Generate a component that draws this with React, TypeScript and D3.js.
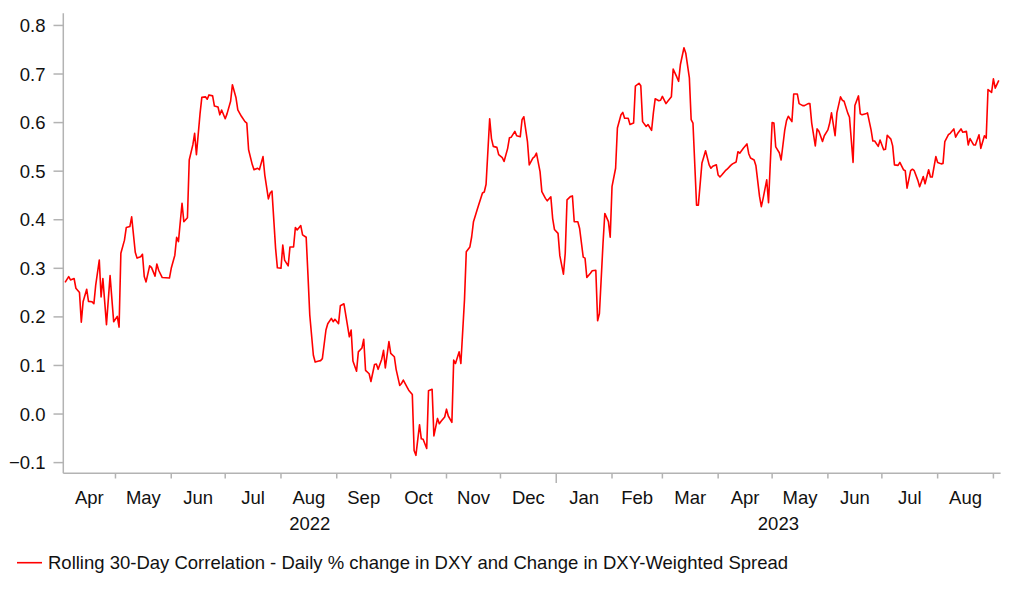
import * as d3 from "d3";

// rolling 30-day correlation
const dates = [
  "2022-04-03", "2022-04-05", "2022-04-06", "2022-04-08", "2022-04-09", "2022-04-11", "2022-04-12", "2022-04-13",
  "2022-04-15", "2022-04-16", "2022-04-18", "2022-04-19", "2022-04-20", "2022-04-22", "2022-04-23", "2022-04-24",
  "2022-04-26", "2022-04-28", "2022-04-29", "2022-04-30", "2022-05-02", "2022-05-03", "2022-05-04", "2022-05-06",
  "2022-05-07", "2022-05-09", "2022-05-10", "2022-05-12", "2022-05-13", "2022-05-15", "2022-05-16", "2022-05-17",
  "2022-05-18", "2022-05-20", "2022-05-21", "2022-05-23", "2022-05-24", "2022-05-25", "2022-05-27", "2022-05-31",
  "2022-06-01", "2022-06-03", "2022-06-04", "2022-06-05", "2022-06-07", "2022-06-08", "2022-06-10", "2022-06-11",
  "2022-06-13", "2022-06-14", "2022-06-15", "2022-06-17", "2022-06-18", "2022-06-20", "2022-06-21", "2022-06-22",
  "2022-06-24", "2022-06-25", "2022-06-27", "2022-06-28", "2022-06-29", "2022-07-01", "2022-07-02", "2022-07-04",
  "2022-07-05", "2022-07-07", "2022-07-08", "2022-07-10", "2022-07-12", "2022-07-13", "2022-07-14", "2022-07-16",
  "2022-07-17", "2022-07-19", "2022-07-20", "2022-07-22", "2022-07-23", "2022-07-25", "2022-07-26", "2022-07-27",
  "2022-07-29", "2022-07-30", "2022-08-01", "2022-08-02", "2022-08-03", "2022-08-05", "2022-08-06", "2022-08-08",
  "2022-08-09", "2022-08-10", "2022-08-12", "2022-08-13", "2022-08-15", "2022-08-16", "2022-08-17", "2022-08-19",
  "2022-08-20", "2022-08-22", "2022-08-23", "2022-08-24", "2022-08-26", "2022-08-27", "2022-08-29", "2022-08-30",
  "2022-08-31", "2022-09-02", "2022-09-03", "2022-09-05", "2022-09-06", "2022-09-08", "2022-09-09", "2022-09-10",
  "2022-09-12", "2022-09-13", "2022-09-15", "2022-09-16", "2022-09-17", "2022-09-19", "2022-09-20", "2022-09-22",
  "2022-09-23", "2022-09-24", "2022-09-26", "2022-09-27", "2022-09-28", "2022-09-30", "2022-10-01", "2022-10-03",
  "2022-10-04", "2022-10-06", "2022-10-07", "2022-10-08", "2022-10-10", "2022-10-11", "2022-10-13", "2022-10-14",
  "2022-10-15", "2022-10-17", "2022-10-18", "2022-10-19", "2022-10-21", "2022-10-22", "2022-10-24", "2022-10-25",
  "2022-10-27", "2022-10-28", "2022-10-29", "2022-10-31", "2022-11-01", "2022-11-02", "2022-11-04", "2022-11-05",
  "2022-11-06", "2022-11-08", "2022-11-09", "2022-11-11", "2022-11-12", "2022-11-14", "2022-11-15", "2022-11-16",
  "2022-11-18", "2022-11-19", "2022-11-21", "2022-11-22", "2022-11-23", "2022-11-25", "2022-11-26", "2022-11-27",
  "2022-11-29", "2022-11-30", "2022-12-02", "2022-12-03", "2022-12-05", "2022-12-06", "2022-12-07", "2022-12-09",
  "2022-12-10", "2022-12-12", "2022-12-13", "2022-12-14", "2022-12-16", "2022-12-17", "2022-12-19", "2022-12-20",
  "2022-12-21", "2022-12-23", "2022-12-24", "2022-12-26", "2022-12-27", "2022-12-29", "2022-12-30", "2022-12-31",
  "2023-01-02", "2023-01-03", "2023-01-05", "2023-01-06", "2023-01-07", "2023-01-09", "2023-01-10", "2023-01-11",
  "2023-01-13", "2023-01-14", "2023-01-16", "2023-01-17", "2023-01-18", "2023-01-20", "2023-01-21", "2023-01-23",
  "2023-01-24", "2023-01-25", "2023-01-27", "2023-01-28", "2023-01-30", "2023-01-31", "2023-02-01", "2023-02-03",
  "2023-02-04", "2023-02-06", "2023-02-07", "2023-02-08", "2023-02-10", "2023-02-11", "2023-02-13", "2023-02-14",
  "2023-02-16", "2023-02-17", "2023-02-18", "2023-02-20", "2023-02-21", "2023-02-23", "2023-02-24", "2023-02-25",
  "2023-02-27", "2023-02-28", "2023-03-01", "2023-03-03", "2023-03-04", "2023-03-06", "2023-03-07", "2023-03-09",
  "2023-03-10", "2023-03-11", "2023-03-13", "2023-03-14", "2023-03-16", "2023-03-17", "2023-03-18", "2023-03-20",
  "2023-03-21", "2023-03-23", "2023-03-24", "2023-03-25", "2023-03-27", "2023-03-28", "2023-03-29", "2023-03-31",
  "2023-04-01", "2023-04-02", "2023-04-03", "2023-04-05", "2023-04-06", "2023-04-08", "2023-04-09", "2023-04-11",
  "2023-04-12", "2023-04-13", "2023-04-15", "2023-04-17", "2023-04-18", "2023-04-19", "2023-04-21", "2023-04-22",
  "2023-04-24", "2023-04-25", "2023-04-26", "2023-04-28", "2023-04-29", "2023-05-01", "2023-05-02", "2023-05-03",
  "2023-05-05", "2023-05-06", "2023-05-08", "2023-05-09", "2023-05-10", "2023-05-12", "2023-05-13", "2023-05-15",
  "2023-05-16", "2023-05-18", "2023-05-19", "2023-05-21", "2023-05-22", "2023-05-23", "2023-05-25", "2023-05-26",
  "2023-05-27", "2023-05-29", "2023-05-30", "2023-06-01", "2023-06-02", "2023-06-03", "2023-06-05", "2023-06-06",
  "2023-06-08", "2023-06-09", "2023-06-10", "2023-06-12", "2023-06-13", "2023-06-15", "2023-06-16", "2023-06-18",
  "2023-06-19", "2023-06-20", "2023-06-22", "2023-06-23", "2023-06-25", "2023-06-26", "2023-06-27", "2023-06-29",
  "2023-06-30", "2023-07-02", "2023-07-03", "2023-07-04", "2023-07-06", "2023-07-07", "2023-07-08", "2023-07-10",
  "2023-07-11", "2023-07-13", "2023-07-14", "2023-07-15", "2023-07-17", "2023-07-18", "2023-07-19", "2023-07-21",
  "2023-07-22", "2023-07-24", "2023-07-25", "2023-07-27", "2023-07-28", "2023-07-29", "2023-07-31", "2023-08-01",
  "2023-08-03", "2023-08-04", "2023-08-05", "2023-08-07", "2023-08-08", "2023-08-10", "2023-08-11", "2023-08-12",
  "2023-08-14", "2023-08-15", "2023-08-17", "2023-08-18", "2023-08-19", "2023-08-21", "2023-08-22", "2023-08-24",
  "2023-08-25", "2023-08-27", "2023-08-28", "2023-08-29", "2023-08-31", "2023-09-01", "2023-09-02", "2023-09-04",
];

const correlation = [
  0.271, 0.283, 0.276, 0.279, 0.259, 0.250, 0.189, 0.231,
  0.257, 0.232, 0.231, 0.227, 0.265, 0.317, 0.241, 0.279,
  0.184, 0.285, 0.237, 0.190, 0.201, 0.179, 0.331, 0.358,
  0.384, 0.386, 0.406, 0.333, 0.321, 0.324, 0.329, 0.283,
  0.272, 0.305, 0.302, 0.284, 0.309, 0.296, 0.281, 0.280,
  0.300, 0.327, 0.364, 0.355, 0.434, 0.396, 0.404, 0.523,
  0.554, 0.578, 0.534, 0.618, 0.652, 0.653, 0.648, 0.657,
  0.655, 0.634, 0.632, 0.616, 0.626, 0.608, 0.618, 0.644,
  0.678, 0.651, 0.626, 0.613, 0.602, 0.599, 0.544, 0.514,
  0.503, 0.506, 0.503, 0.530, 0.492, 0.443, 0.455, 0.459,
  0.341, 0.301, 0.300, 0.348, 0.317, 0.305, 0.344, 0.344,
  0.384, 0.379, 0.388, 0.369, 0.364, 0.286, 0.204, 0.121,
  0.107, 0.109, 0.110, 0.114, 0.173, 0.186, 0.197, 0.190,
  0.195, 0.186, 0.223, 0.227, 0.204, 0.159, 0.173, 0.109,
  0.088, 0.128, 0.136, 0.154, 0.090, 0.083, 0.067, 0.102,
  0.103, 0.092, 0.113, 0.131, 0.095, 0.149, 0.125, 0.118,
  0.092, 0.059, 0.063, 0.070, 0.056, 0.049, 0.040, -0.075,
  -0.085, -0.022, -0.051, -0.052, -0.071, 0.048, 0.051, -0.045,
  -0.009, -0.020, -0.015, -0.006, 0.010, -0.004, -0.017, 0.111,
  0.104, 0.128, 0.104, 0.235, 0.334, 0.344, 0.365, 0.396,
  0.420, 0.432, 0.455, 0.457, 0.473, 0.608, 0.567, 0.551,
  0.549, 0.534, 0.528, 0.520, 0.547, 0.569, 0.570, 0.582,
  0.573, 0.571, 0.606, 0.612, 0.561, 0.513, 0.527, 0.530,
  0.537, 0.499, 0.458, 0.444, 0.439, 0.447, 0.403, 0.380,
  0.372, 0.326, 0.288, 0.331, 0.441, 0.448, 0.449, 0.396,
  0.396, 0.382, 0.323, 0.321, 0.281, 0.290, 0.295, 0.296,
  0.192, 0.207, 0.351, 0.413, 0.396, 0.364, 0.468, 0.506,
  0.589, 0.616, 0.621, 0.609, 0.609, 0.596, 0.599, 0.675,
  0.681, 0.676, 0.602, 0.592, 0.596, 0.584, 0.620, 0.649,
  0.645, 0.646, 0.654, 0.639, 0.644, 0.653, 0.710, 0.694,
  0.685, 0.719, 0.754, 0.743, 0.692, 0.606, 0.599, 0.430,
  0.430, 0.517, 0.529, 0.542, 0.513, 0.506, 0.510, 0.513,
  0.492, 0.488, 0.492, 0.501, 0.504, 0.512, 0.515, 0.519,
  0.540, 0.537, 0.547, 0.556, 0.536, 0.527, 0.523, 0.511,
  0.448, 0.427, 0.444, 0.482, 0.435, 0.600, 0.599, 0.550,
  0.538, 0.523, 0.584, 0.604, 0.613, 0.602, 0.659, 0.659,
  0.639, 0.635, 0.635, 0.639, 0.639, 0.599, 0.552, 0.587,
  0.582, 0.561, 0.573, 0.585, 0.599, 0.620, 0.573, 0.620,
  0.653, 0.646, 0.644, 0.620, 0.611, 0.518, 0.635, 0.655,
  0.618, 0.616, 0.618, 0.620, 0.585, 0.562, 0.562, 0.551,
  0.564, 0.544, 0.545, 0.574, 0.566, 0.552, 0.513, 0.512,
  0.518, 0.503, 0.501, 0.465, 0.501, 0.504, 0.501, 0.481,
  0.468, 0.489, 0.474, 0.503, 0.488, 0.488, 0.530, 0.518,
  0.515, 0.516, 0.561, 0.575, 0.578, 0.587, 0.570, 0.577,
  0.587, 0.580, 0.582, 0.554, 0.567, 0.554, 0.554, 0.575,
  0.547, 0.573, 0.568, 0.668, 0.662, 0.690, 0.671, 0.687,
];

const yTicks = [-0.1, 0.0, 0.1, 0.2, 0.3, 0.4, 0.5, 0.6, 0.7, 0.8];
const seriesName = "Rolling 30-Day Correlation - Daily % change in DXY and Change in DXY-Weighted Spread";

const W = 1022;
const H = 597;
const FONT = "Arial, 'Liberation Sans', sans-serif";
const FS = 18.5;
const AXIS = "#b3b3b3";

export default function App() {
  const parse = d3.utcParse("%Y-%m-%d");
  const points = dates.map((d, i) => ({ date: parse(d) as Date, value: correlation[i] }));

  const start = new Date(Date.UTC(2022, 3, 2));
  const end = new Date(Date.UTC(2023, 8, 5));
  const x = d3.scaleUtc().domain([start, end]).range([63.3, 1000.6]);
  const y = d3.scaleLinear().domain([-0.122, 0.825]).range([473.3, 13.3]);

  const line = d3
    .line<{ date: Date; value: number }>()
    .x((d) => x(d.date))
    .y((d) => y(d.value));

  const months = d3.utcMonth.range(d3.utcMonth.ceil(start), end);
  // month labels sit in the middle of each (clipped) month
  const monthBands = d3.utcMonth.range(d3.utcMonth.floor(start), end).map((m) => {
    const a = m < start ? start : m;
    const next = d3.utcMonth.offset(m, 1);
    const b = next > end ? end : next;
    return { m, mid: (x(a) + x(b)) / 2, width: x(b) - x(a) };
  }).filter((d) => d.width > 20);

  const years = [2022, 2023].map((yr) => {
    const a = new Date(Date.UTC(yr, 0, 1));
    const b = new Date(Date.UTC(yr + 1, 0, 1));
    const lo = a < start ? start : a;
    const hi = b > end ? end : b;
    return { yr, mid: (x(lo) + x(hi)) / 2 };
  });

  const fmt = d3.format(".1f");
  const fmtMonth = d3.utcFormat("%b");

  return (
    <div style={{ position: "absolute", left: 0, top: 0 }}>
      <svg width={W} height={H} style={{ display: "block", background: "#fff" }} fontFamily={FONT}>
        {/* y axis */}
        <line x1={63.3} x2={63.3} y1={13.3} y2={473.3} stroke={AXIS} strokeWidth={1.5} />
        {yTicks.map((t) => (
          <g key={t}>
            <line x1={53.5} x2={63.3} y1={y(t)} y2={y(t)} stroke={AXIS} strokeWidth={1.5} />
            <text x={45.5} y={y(t) + 6.6} textAnchor="end" fontSize={FS} fill="#111">
              {fmt(t)}
            </text>
          </g>
        ))}

        {/* x axis */}
        <line x1={63.3} x2={1000.6} y1={473.3} y2={473.3} stroke={AXIS} strokeWidth={1.5} />
        {months.map((m) => (
          <line
            key={m.toISOString()}
            x1={x(m)}
            x2={x(m)}
            y1={473.3}
            y2={m.getUTCMonth() === 0 ? 483 : 478.5}
            stroke={AXIS}
            strokeWidth={1.5}
          />
        ))}
        {monthBands.map((d) => (
          <text key={d.m.toISOString()} x={d.mid} y={504} textAnchor="middle" fontSize={FS} fill="#111">
            {fmtMonth(d.m)}
          </text>
        ))}
        {years.map((d) => (
          <text key={d.yr} x={d.mid} y={529.5} textAnchor="middle" fontSize={FS} fill="#111">
            {d.yr}
          </text>
        ))}

        {/* series */}
        <path d={line(points) ?? ""} fill="none" stroke="#ff0000" strokeWidth={1.6} strokeLinejoin="round" />

        {/* legend */}
        <line x1={17} x2={42} y1={562.7} y2={562.7} stroke="#ff0000" strokeWidth={1.6} />
        <text x={48} y={569} fontSize={FS} fill="#111">
          {seriesName}
        </text>
      </svg>
    </div>
  );
}
